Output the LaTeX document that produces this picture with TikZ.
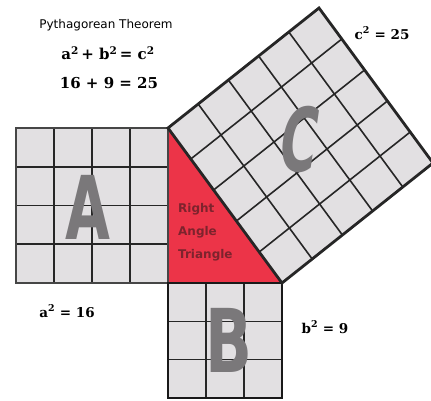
\documentclass[tikz,border=0pt]{standalone}
\usepackage{fontspec}
\setmainfont{DejaVu Serif}
\newfontfamily\sansf{DejaVu Sans}
\newfontfamily\letf{DejaVu Sans}
\usetikzlibrary{calc}
\definecolor{cellgray}{RGB}{226,224,226}
\definecolor{rtred}{RGB}{236,52,72}
\definecolor{bordergray}{RGB}{70,70,70}
\definecolor{lettergray}{RGB}{122,120,122}
\definecolor{tritext}{RGB}{125,35,45}
\begin{document}
\begin{tikzpicture}[x=1pt,y=-1pt,
  gridline/.style={line width=1.6pt, black!85},
  outer/.style={line width=2.8pt, bordergray, line join=miter},
  lbl/.style={font=\bfseries\fontsize{13.5}{16}\selectfont, inner sep=0},
  eqn/.style={font=\bfseries\fontsize{15}{18}\selectfont, inner sep=0},
  big/.style={font=\letf\bfseries\fontsize{88}{90}\selectfont, text=lettergray, inner sep=0}]
\useasboundingbox (0,0) rectangle (431,400);
\clip (0,0) rectangle (431,400);
\coordinate (P) at (168,128);
\coordinate (R) at (168,283);
\coordinate (Q) at (282,283);
\coordinate (T) at (319,8);
\coordinate (K) at (433,163);
\coordinate (A1) at (16,128);
\coordinate (A2) at (16,283);
\coordinate (B1) at (168,398);
\coordinate (B2) at (282,398);
% fills
\fill[cellgray] (A1) rectangle (R);
\fill[cellgray] (R) rectangle (B2);
\fill[cellgray] (P) -- (T) -- (K) -- (Q) -- cycle;
\fill[rtred] (P) -- (R) -- (Q) -- cycle;
% grids
\foreach \i in {1,2,3} {
  \draw[gridline] ($(A1)!\i/4!(P)$) -- ($(A2)!\i/4!(R)$);
  \draw[gridline] ($(A1)!\i/4!(A2)$) -- ($(P)!\i/4!(R)$);
}
\foreach \i in {1,2} {
  \draw[gridline] ($(R)!\i/3!(Q)$) -- ($(B1)!\i/3!(B2)$);
  \draw[gridline] ($(R)!\i/3!(B1)$) -- ($(Q)!\i/3!(B2)$);
}
\foreach \i in {1,...,4} {
  \draw[gridline] ($(P)!\i/5!(T)$) -- ($(Q)!\i/5!(K)$);
  \draw[gridline] ($(P)!\i/5!(Q)$) -- ($(T)!\i/5!(K)$);
}
% borders
\draw[outer] (A1) rectangle (R);
\draw[outer, black!90] (R) rectangle (B2);
\draw[outer, black!85] (P) -- (T) -- (K) -- (Q) -- cycle;
% letters
\node[big, xscale=0.66] (LA) at (88,207) {A};
\node[big, xscale=0.7] (LB) at (229,340) {B};
\node[big, xscale=0.58, xslant=0.25] (LC) at (300,139) {C};
% triangle text
\node[anchor=north west, align=left, inner sep=0, text=tritext,
  font=\sansf\bfseries\fontsize{12}{23}\selectfont] (tri) at (178,203) {Right\\Angle\\Triangle};
% texts
\node[font=\sansf\fontsize{12}{14}\selectfont, inner sep=0] (title) at (106,25) {Pythagorean Theorem};
\node[eqn] (eq1) at (108,53) {a\textsuperscript{2}\,+ b\textsuperscript{2}\,= c\textsuperscript{2}};
\node[eqn] (eq2) at (109,83) {16 + 9 = 25};
\node[lbl] (c2) at (382,33) {c\textsuperscript{2} = 25};
\node[lbl] (a2) at (67,311) {a\textsuperscript{2} = 16};
\node[lbl] (b2) at (325,327) {b\textsuperscript{2} = 9};
\end{tikzpicture}
\end{document}
